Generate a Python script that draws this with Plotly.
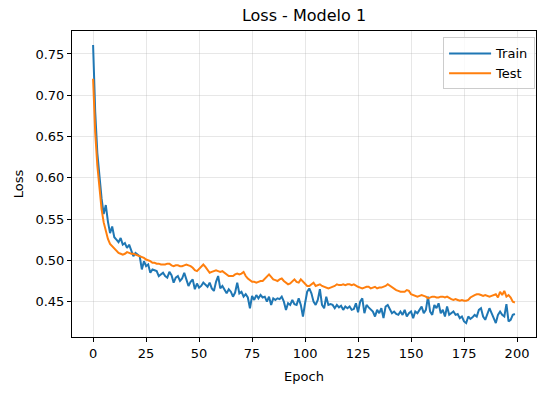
import plotly.graph_objects as go

epochs = list(range(200))

train_loss = [
    0.761, 0.680, 0.630, 0.600, 0.575, 0.556, 0.567, 0.547, 0.533, 0.541,
    0.528, 0.525, 0.522, 0.527, 0.519, 0.521, 0.515, 0.519, 0.511, 0.505,
    0.509, 0.507, 0.505, 0.489, 0.499, 0.493, 0.495, 0.485, 0.489, 0.488,
    0.487, 0.481, 0.483, 0.485, 0.481, 0.479, 0.486, 0.482, 0.473, 0.479,
    0.481, 0.475, 0.478, 0.485, 0.477, 0.469, 0.474, 0.477, 0.465, 0.472,
    0.467, 0.469, 0.473, 0.470, 0.468, 0.473, 0.466, 0.463, 0.474, 0.481,
    0.466, 0.469, 0.465, 0.460, 0.465, 0.462, 0.456, 0.461, 0.473, 0.460,
    0.462, 0.456, 0.459, 0.455, 0.442, 0.457, 0.452, 0.458, 0.454, 0.458,
    0.455, 0.456, 0.450, 0.456, 0.446, 0.454, 0.452, 0.454, 0.453, 0.456,
    0.450, 0.440, 0.448, 0.446, 0.452, 0.447, 0.446, 0.454, 0.446, 0.432,
    0.448, 0.462, 0.466, 0.460, 0.450, 0.446, 0.452, 0.465, 0.446, 0.442,
    0.456, 0.446, 0.447, 0.446, 0.442, 0.446, 0.443, 0.445, 0.440, 0.444,
    0.442, 0.444, 0.440, 0.441, 0.448, 0.437, 0.450, 0.454, 0.436, 0.446,
    0.443, 0.440, 0.438, 0.432, 0.440, 0.436, 0.442, 0.430, 0.444, 0.446,
    0.440, 0.436, 0.438, 0.435, 0.434, 0.438, 0.434, 0.440, 0.432, 0.436,
    0.438, 0.430, 0.438, 0.436, 0.440, 0.444, 0.436, 0.440, 0.456, 0.438,
    0.434, 0.446, 0.442, 0.448, 0.436, 0.440, 0.432, 0.444, 0.434, 0.436,
    0.438, 0.434, 0.435, 0.430, 0.432, 0.426, 0.424, 0.432, 0.429, 0.431,
    0.434, 0.432, 0.440, 0.442, 0.432, 0.428, 0.436, 0.442, 0.436, 0.430,
    0.424, 0.434, 0.438, 0.434, 0.432, 0.447, 0.426, 0.428, 0.434, 0.435,
]

test_loss = [
    0.720, 0.655, 0.615, 0.585, 0.562, 0.546, 0.534, 0.526, 0.520, 0.517,
    0.514, 0.511, 0.509, 0.508, 0.507, 0.508, 0.510, 0.509, 0.508, 0.508,
    0.507, 0.506, 0.505, 0.504, 0.503, 0.501, 0.500, 0.499, 0.497, 0.497,
    0.496, 0.496, 0.495, 0.495, 0.495, 0.496, 0.496, 0.494, 0.493, 0.494,
    0.494, 0.493, 0.493, 0.494, 0.495, 0.494, 0.493, 0.491, 0.488, 0.487,
    0.490, 0.492, 0.495, 0.492, 0.489, 0.485, 0.486, 0.487, 0.488, 0.487,
    0.486, 0.487, 0.485, 0.483, 0.481, 0.481, 0.481, 0.483, 0.484, 0.483,
    0.484, 0.486, 0.481, 0.478, 0.476, 0.474, 0.474, 0.473, 0.474, 0.475,
    0.475, 0.478, 0.481, 0.483, 0.480, 0.477, 0.476, 0.475, 0.477, 0.478,
    0.475, 0.473, 0.471, 0.472, 0.474, 0.477, 0.474, 0.473, 0.477, 0.474,
    0.471, 0.469, 0.469, 0.471, 0.473, 0.469, 0.470, 0.471, 0.469, 0.468,
    0.467, 0.466, 0.467, 0.468, 0.469, 0.471, 0.470, 0.470, 0.471, 0.470,
    0.471, 0.471, 0.470, 0.471, 0.469, 0.468, 0.467, 0.466, 0.467, 0.468,
    0.468, 0.466, 0.467, 0.468, 0.466, 0.467, 0.467, 0.468, 0.469, 0.471,
    0.469, 0.467, 0.465, 0.464, 0.463, 0.462, 0.462, 0.462, 0.464, 0.463,
    0.459, 0.458, 0.457, 0.456, 0.457, 0.458, 0.457, 0.456, 0.454, 0.455,
    0.456, 0.456, 0.455, 0.455, 0.456, 0.456, 0.455, 0.456, 0.454, 0.453,
    0.452, 0.453, 0.452, 0.451, 0.452, 0.451, 0.451, 0.452, 0.455, 0.457,
    0.458, 0.459, 0.459, 0.458, 0.457, 0.458, 0.457, 0.456, 0.457, 0.458,
    0.459, 0.455, 0.462, 0.458, 0.463, 0.456, 0.458, 0.455, 0.450, 0.449,
]

x_ticks = [0, 25, 50, 75, 100, 125, 150, 175, 200]
y_ticks = [0.45, 0.50, 0.55, 0.60, 0.65, 0.70, 0.75]

# matplotlib-like 5% margins
all_y = train_loss + test_loss
ymin, ymax = min(all_y), max(all_y)
ypad = (ymax - ymin) * 0.05
xmin, xmax = epochs[0], epochs[-1]
xpad = (xmax - xmin) * 0.05

font = dict(family="DejaVu Sans", size=13, color="black")
grid_col = "rgba(176,176,176,0.3)"

fig = go.Figure()
fig.add_trace(go.Scatter(x=epochs, y=train_loss, mode="lines", name="Train",
                         line=dict(color="#1f77b4", width=2)))
fig.add_trace(go.Scatter(x=epochs, y=test_loss, mode="lines", name="Test",
                         line=dict(color="#ff7f0e", width=2)))

fig.update_layout(
    width=545, height=393,
    margin=dict(l=72, r=9, t=31, b=56),
    paper_bgcolor="white", plot_bgcolor="white",
    font=font,
    title=dict(text="Loss - Modelo 1", x=0.5, xref="paper", xanchor="center",
               y=1 - 15 / 393, yref="container", yanchor="middle",
               font=dict(family="DejaVu Sans", size=16, color="black")),
    showlegend=True,
    legend=dict(x=0.998, y=0.979, xanchor="right", yanchor="top",
                bgcolor="rgba(255,255,255,0.8)", bordercolor="#cccccc", borderwidth=1,
                font=dict(family="DejaVu Sans", size=13, color="black"),
                itemwidth=42, tracegroupgap=2),
)
fig.update_xaxes(
    range=[xmin - xpad, xmax + xpad], tickmode="array", tickvals=x_ticks,
    ticktext=[str(t) for t in x_ticks],
    showgrid=True, gridcolor=grid_col, gridwidth=1, zeroline=False,
    showline=True, mirror=True, linecolor="black", linewidth=1,
    ticks="outside", ticklen=4, tickcolor="black", automargin=False,
    title=dict(text="Epoch", standoff=12, font=font),
)
fig.update_yaxes(
    range=[ymin - ypad, ymax + ypad], tickmode="array", tickvals=y_ticks,
    ticktext=[f"{t:.2f}" for t in y_ticks],
    showgrid=True, gridcolor=grid_col, gridwidth=1, zeroline=False,
    showline=True, mirror=True, linecolor="black", linewidth=1,
    ticks="outside", ticklen=4, tickcolor="black", automargin=False,
    title=dict(text="Loss", standoff=8, font=font),
)

fig.write_html("out.html", config={"displayModeBar": False},
               post_script="document.body.style.margin='0px';")
